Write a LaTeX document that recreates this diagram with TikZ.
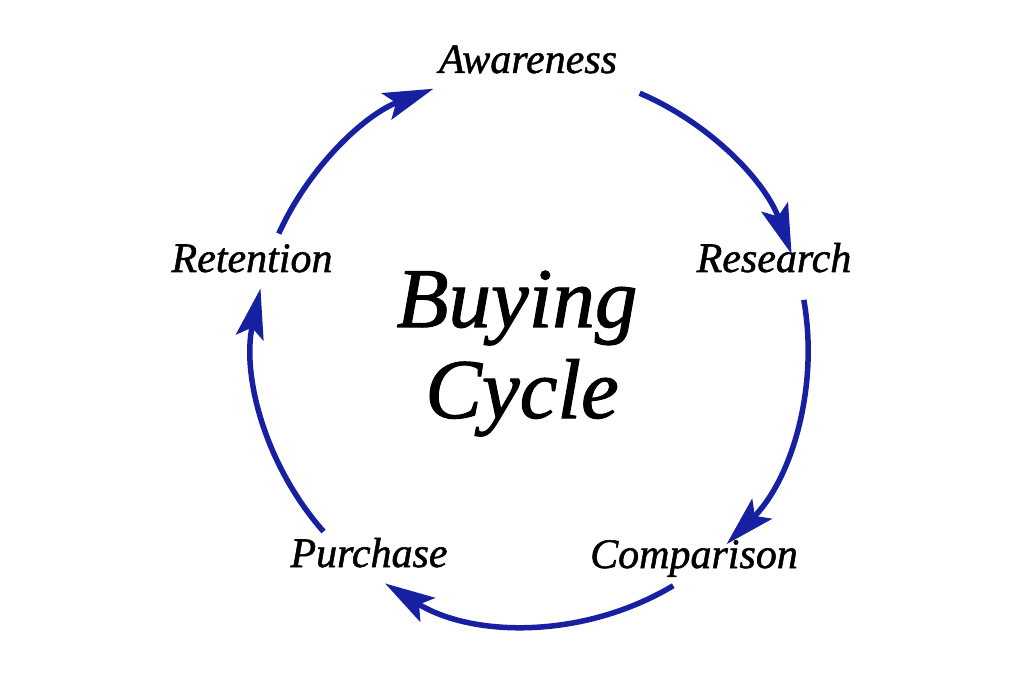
\documentclass[tikz,border=0pt]{standalone}
\usepackage{fontspec}
\setmainfont{Liberation Serif}
\newfontfamily\labfont[FakeBold=1.2]{Liberation Serif}
\usetikzlibrary{arrows.meta}
\definecolor{cyc}{RGB}{22,32,160}
\begin{document}
\begin{tikzpicture}[x=1pt,y=1pt,
  lab/.style={font=\labfont\fontsize{42}{46}\selectfont\itshape, anchor=base, inner sep=0pt},
  bigtitle/.style={font=\labfont\fontsize{85}{95}\selectfont\itshape, anchor=base, inner sep=0pt},
  cycarrow/.style={draw=cyc, line width=5.5pt, line cap=butt,
    -{Stealth[length=50pt,width=28pt,inset=10pt]}}]
\useasboundingbox (0,0) rectangle (1024,683);
\fill[white] (0,0) rectangle (1024,683);
\coordinate (O) at (531,335);
% labels
\node[lab] (aw) at (528,610) {Awareness};
\node[lab] (re) at (774,411) {Research};
\node[lab] (co) at (694,115) {Comparison};
\node[lab] (pu) at (369,116) {Purchase};
\node[lab] (rt) at (252,411) {Retention};
\node[bigtitle] (t1) at (517,356) {Buying};
\node[bigtitle] (t2) at (522,265) {Cycle};
% arc end points on the circle
\coordinate (s1) at ([shift={(66.9:277)}]O);
\coordinate (s2) at ([shift={(10:277)}]O);
\coordinate (s3) at ([shift={(-59.1:277)}]O);
\coordinate (s4) at ([shift={(221.5:277)}]O);
\coordinate (s5) at ([shift={(155.6:277)}]O);
% connectors
\draw[cycarrow] (s1) arc[start angle=66.9, end angle=19.8, radius=277];
\draw[cycarrow] (s2) arc[start angle=10, end angle=-45.1, radius=277];
\draw[cycarrow] (s3) arc[start angle=-59.1, end angle=-121.8, radius=277];
\draw[cycarrow] (s4) arc[start angle=221.5, end angle=167.6, radius=277];
\draw[cycarrow] (s5) arc[start angle=155.6, end angle=110.6, radius=277];
\end{tikzpicture}
\end{document}
